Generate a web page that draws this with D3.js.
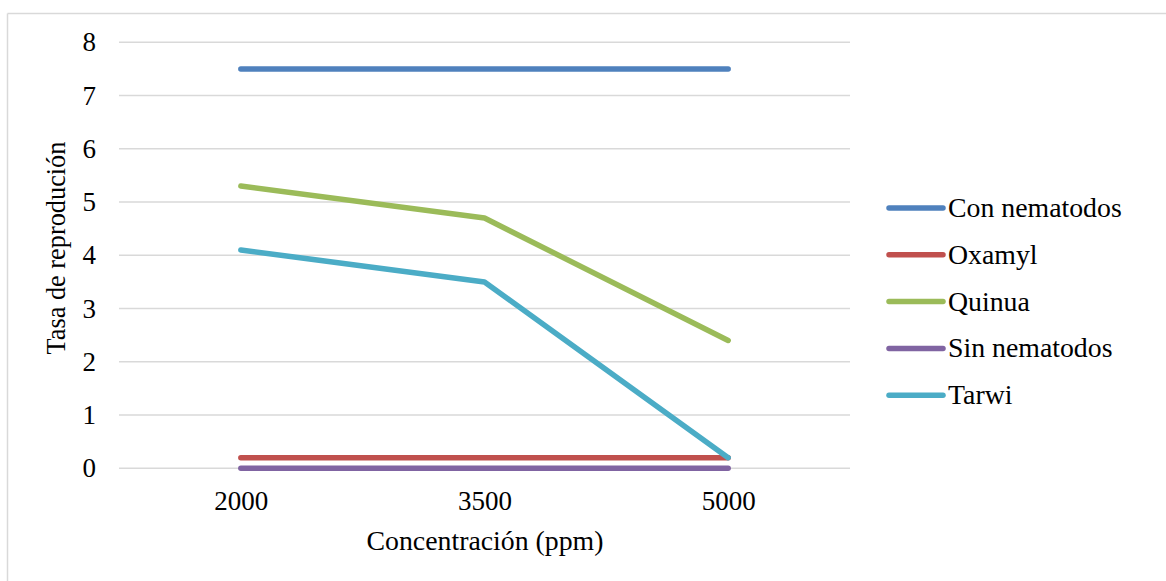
<!DOCTYPE html>
<html><head><meta charset="utf-8">
<script src="https://cdn.jsdelivr.net/npm/d3@7"></script>
<style>body{margin:0;background:#fff}svg{display:block}</style>
</head><body><svg id="c" width="1166" height="581"></svg>
<script>
const categories = ["2000", "3500", "5000"];
const seriesNames = ["Con nematodos", "Oxamyl", "Quinua", "Sin nematodos", "Tarwi"];
const conNematodos = [7.5, 7.5, 7.5];
const oxamyl = [0.2, 0.2, 0.2];
const quinua = [5.3, 4.7, 2.4];
const sinNematodos = [0, 0, 0];
const tarwi = [4.1, 3.5, 0.2];
const yTicks = [0, 1, 2, 3, 4, 5, 6, 7, 8];
const colors = ["#4F81BD", "#C0504D", "#9BBB59", "#8064A2", "#4BACC6"];
const xTitle = "Concentración (ppm)";
const yTitle = "Tasa de reprodución";

const series = [conNematodos, oxamyl, quinua, sinNematodos, tarwi].map((v, i) => ({name: seriesNames[i], values: v, color: colors[i]}));

const FONT = "'Liberation Serif', Tinos, 'Times New Roman', Times, 'DejaVu Serif', serif";
const svg = d3.select("#c");
const fsTick = 27, fsText = 27.8, fsY = 26.3;
svg.append("line").attr("x1", 7.5).attr("x2", 1166).attr("y1", 13.5).attr("y2", 13.5).attr("stroke", "#d9d9d9").attr("stroke-width", 1.5);
svg.append("line").attr("x1", 7.5).attr("x2", 7.5).attr("y1", 13.5).attr("y2", 581).attr("stroke", "#d9d9d9").attr("stroke-width", 1.5);

const pLeft = 119, pRight = 850, pTop = 42.3, pBottom = 468.3;
const x = d3.scalePoint().domain(categories).range([pLeft, pRight]).padding(0.5);
const y = d3.scaleLinear().domain([0, 8]).range([pBottom, pTop]);

svg.append("g").selectAll("line").data(yTicks).join("line")
  .attr("x1", pLeft).attr("x2", pRight)
  .attr("y1", d => y(d)).attr("y2", d => y(d))
  .attr("stroke", "#d9d9d9").attr("stroke-width", 1.5);

const yAxis = svg.append("g").attr("transform", `translate(${pLeft},0)`)
  .call(d3.axisLeft(y).tickValues(yTicks).tickSize(0).tickPadding(23).tickFormat(d3.format("d")));
yAxis.select(".domain").remove();
yAxis.attr("font-family", FONT).attr("font-size", fsTick);
yAxis.selectAll("text").attr("fill", "#000");

const xAxis = svg.append("g").attr("transform", `translate(0,${pBottom})`)
  .call(d3.axisBottom(x).tickSize(0).tickPadding(23));
xAxis.select(".domain").remove();
xAxis.attr("font-family", FONT).attr("font-size", fsTick);
xAxis.selectAll("text").attr("fill", "#000");

const line = d3.line().x((d, i) => x(categories[i])).y(d => y(d));
svg.append("g").selectAll("path").data(series).join("path")
  .attr("d", d => line(d.values))
  .attr("fill", "none").attr("stroke", d => d.color)
  .attr("stroke-width", 5.5).attr("stroke-linecap", "round").attr("stroke-linejoin", "round");

svg.append("text").attr("x", 485).attr("y", 550).attr("text-anchor", "middle")
  .attr("font-family", FONT).attr("font-size", fsText).text(xTitle);
svg.append("text").attr("transform", "translate(65,248) rotate(-90)").attr("text-anchor", "middle")
  .attr("font-family", FONT).attr("font-size", fsY).text(yTitle);

const lg = svg.append("g").selectAll("g").data(series).join("g")
  .attr("transform", (d, i) => `translate(889,${208 + i * 46.8})`);
lg.append("line").attr("x1", 0).attr("x2", 54).attr("y1", 0).attr("y2", 0)
  .attr("stroke", d => d.color).attr("stroke-width", 5.5).attr("stroke-linecap", "round");
lg.append("text").attr("x", 59).attr("y", 9).attr("font-family", FONT).attr("font-size", fsText).text(d => d.name);
</script></body></html>
